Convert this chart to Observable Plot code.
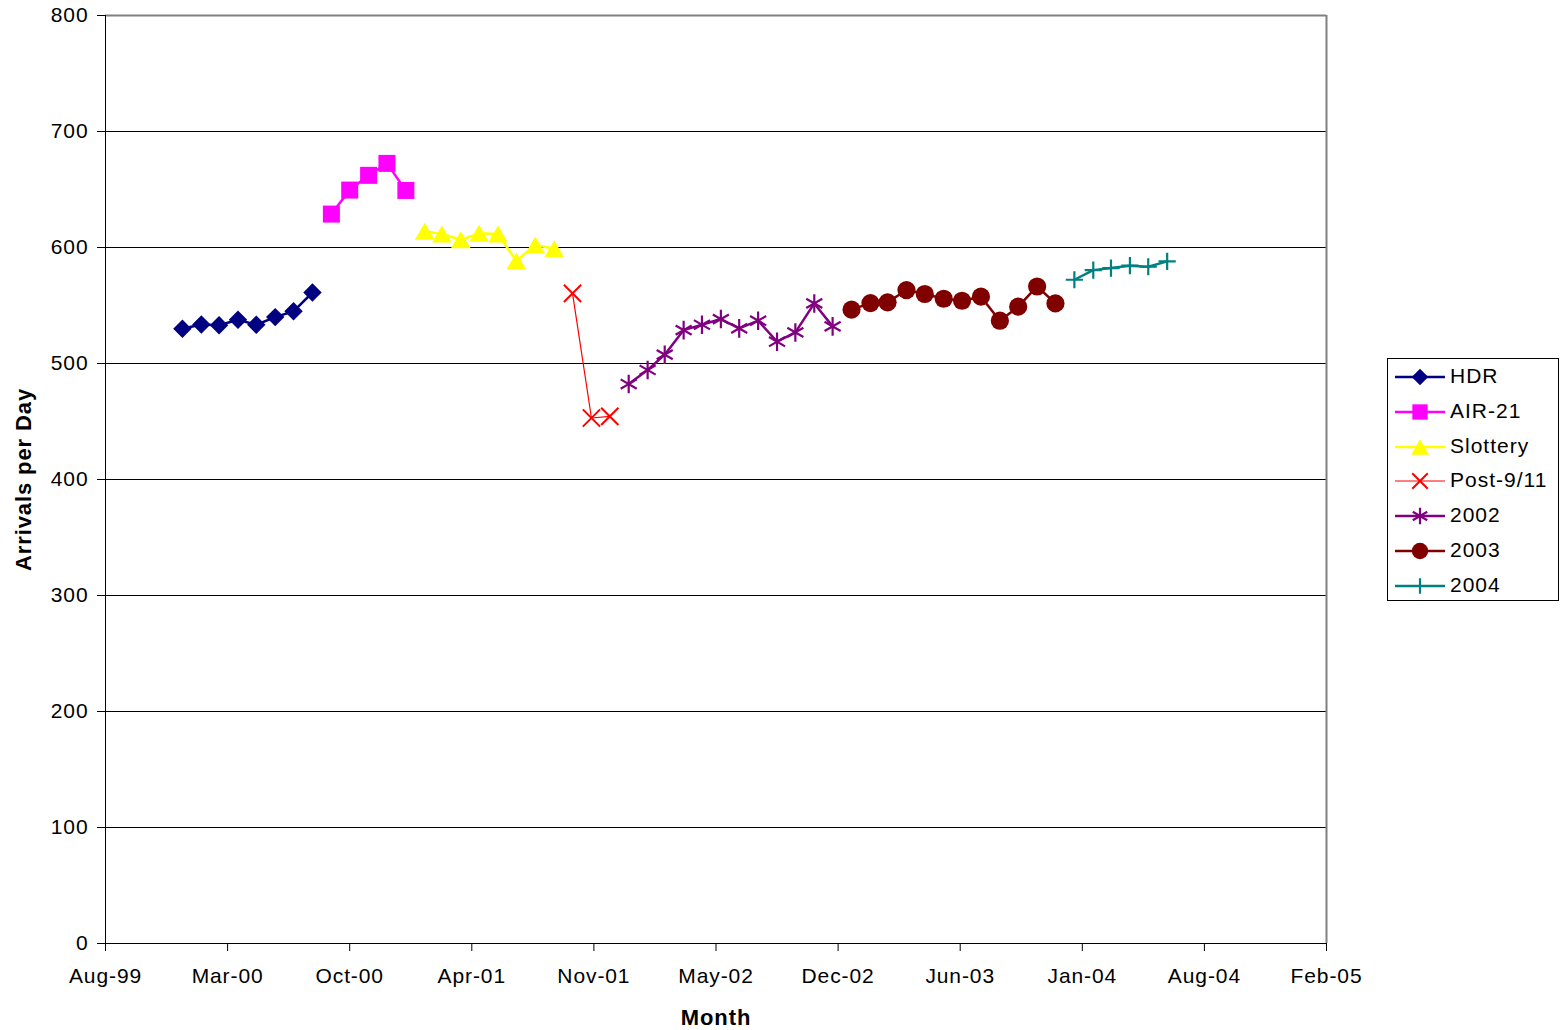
<!DOCTYPE html>
<html><head><meta charset="utf-8">
<script src="https://cdn.jsdelivr.net/npm/d3@7"></script>
<script src="https://cdn.jsdelivr.net/npm/@observablehq/plot@0.6"></script>
<style>
body{margin:0;background:#fff;color:#000;font-family:"Liberation Sans",Arial,sans-serif;}
#wrap{position:relative;width:1562px;height:1030px;}
#legend{position:absolute;left:1387px;top:358px;width:170px;height:241px;border:1px solid #000;background:#fff;}
.row{position:absolute;left:0;height:20px;width:170px;}
.row svg{position:absolute;left:7px;top:0;overflow:visible;}
.row span{position:absolute;left:62px;top:-3px;font-size:21px;line-height:24px;letter-spacing:1px;white-space:nowrap;}
</style></head><body><div id="wrap"><div id="legend"></div></div>
<script>
// ---- data ----
const seriesNames = ["HDR","AIR-21","Slottery","Post-9/11","2002","2003","2004"];
const seriesColors = ["#000080","#FF00FF","#FFFF00","#FF0000","#800080","#800000","#008080"];

const hdrMonths = ["2000-01","2000-02","2000-03","2000-04","2000-05","2000-06","2000-07","2000-08"];
const hdrValues = [530,533.6,533,537.7,533.4,540,545,561.2];

const air21Months = ["2000-09","2000-10","2000-11","2000-12","2001-01"];
const air21Values = [628.8,649.5,662.2,672.5,649.2];

const slotteryMonths = ["2001-02","2001-03","2001-04","2001-05","2001-06","2001-07","2001-08","2001-09"];
const slotteryValues = [614,611.6,606.7,612.2,611.6,588.3,602.1,598.9];

const post911Months = ["2001-10","2001-11","2001-12"];
const post911Values = [560.4,453,454.4];

const y2002Months = ["2002-01","2002-02","2002-03","2002-04","2002-05","2002-06","2002-07","2002-08","2002-09","2002-10","2002-11","2002-12"];
const y2002Values = [482.3,494.4,507.6,528.8,533.4,538.3,530.3,536.9,518.8,526.8,551.8,532.0];

const y2003Months = ["2003-01","2003-02","2003-03","2003-04","2003-05","2003-06","2003-07","2003-08","2003-09","2003-10","2003-11","2003-12"];
const y2003Values = [546.4,552.1,552.7,563.3,559.9,555.8,554.1,557.6,536.9,549,566.4,551.8];

const y2004Months = ["2004-01","2004-02","2004-03","2004-04","2004-05","2004-06"];
const y2004Values = [572.2,580.5,582.3,584.3,583.4,588];

const xTickDates = ["1999-08-28","2000-03-15","2000-10-01","2001-04-19","2001-11-05","2002-05-24","2002-12-10","2003-06-28","2004-01-14","2004-08-01","2005-02-17"];
const yTicks = [0,100,200,300,400,500,600,700,800];

// ---- styles ----
const styles = [
  {symbol:"diamond2", r:8.3, filled:true, lw:2.5, dy:0},
  {symbol:"square", r:9.6, filled:true, lw:2.5, dy:0},
  {symbol:"triangle", r:7.3, filled:true, lw:2.5, dy:2.8},
  {symbol:"times", r:7.9, filled:false, lw:1.2, sw:2},
  {symbol:"asterisk", r:8.8, filled:false, lw:2.5, sw:2.2},
  {symbol:"circle", r:9.1, filled:true, lw:2.5, dy:0},
  {symbol:"plus", r:5.6, filled:false, lw:2.5, sw:2.2}
];

const monthsList = [hdrMonths,air21Months,slotteryMonths,post911Months,y2002Months,y2003Months,y2004Months];
const valuesList = [hdrValues,air21Values,slotteryValues,post911Values,y2002Values,y2003Values,y2004Values];
const series = seriesNames.map((name,i)=>({
  name, color: seriesColors[i], style: styles[i],
  data: monthsList[i].map((m,j)=>({date:new Date(m+"-01T00:00:00Z"), value:valuesList[i][j]}))
}));

const marks = [
  Plot.ruleY(yTicks.filter(d=>d>0 && d<800), {stroke:"#000", strokeWidth:1}),
  Plot.ruleY([800], {stroke:"#808080", strokeWidth:2}),
  Plot.ruleX([new Date(xTickDates[xTickDates.length-1])], {stroke:"#808080", strokeWidth:2}),
];
for (const s of series) {
  marks.push(Plot.line(s.data, {x:"date", y:"value", stroke:s.color, strokeWidth:s.style.lw}));
  if (s.style.filled) {
    marks.push(Plot.dot(s.data, {x:"date", y:"value", symbol:s.style.symbol, r:s.style.r, fill:s.color, stroke:"none", dy:s.style.dy||0}));
  } else {
    marks.push(Plot.dot(s.data, {x:"date", y:"value", symbol:s.style.symbol, r:s.style.r, fill:"none", stroke:s.color, strokeWidth:s.style.sw}));
  }
}
marks.push(
  Plot.ruleX([new Date(xTickDates[0])], {stroke:"#000", strokeWidth:1}),
  Plot.ruleY([0], {stroke:"#000", strokeWidth:1}),
  Plot.axisY({ticks:yTicks, tickSize:8, tickPadding:9, fontSize:21, label:null, stroke:"#000"}),
  Plot.axisX({ticks:xTickDates.map(d=>new Date(d)), tickFormat:d3.utcFormat("%b-%y"), tickSize:8, tickPadding:17, fontSize:21, label:null}),
  Plot.text(["Arrivals per Day"], {frameAnchor:"left", dx:-82, rotate:-90, textAnchor:"middle", lineAnchor:"middle", fontWeight:"bold", fontSize:22}),
  Plot.text(["Month"], {frameAnchor:"bottom", dy:74, textAnchor:"middle", lineAnchor:"middle", fontWeight:"bold", fontSize:22})
);

const chart = Plot.plot({
  width:1562, height:1030,
  marginLeft:105, marginRight:236, marginTop:15, marginBottom:87,
  style:{fontFamily:"'Liberation Sans', Arial, sans-serif", background:"#fff", color:"#000", overflow:"visible", letterSpacing:"0.9px"},
  x:{type:"utc", domain:[new Date(xTickDates[0]), new Date(xTickDates[xTickDates.length-1])]},
  y:{domain:[0,800]},
  marks
});
document.getElementById("wrap").prepend(chart);

// ---- legend ----
const legend = document.getElementById("legend");
const symMap = {diamond2:d3.symbolDiamond2, square:d3.symbolSquare, triangle:d3.symbolTriangle, times:d3.symbolTimes, asterisk:d3.symbolAsterisk, circle:d3.symbolCircle, plus:d3.symbolPlus};
series.forEach((s,i)=>{
  const row = document.createElement("div");
  row.className = "row";
  row.style.top = (8 + i*34.8) + "px";
  const svg = d3.create("svg").attr("width",52).attr("height",20);
  svg.append("line").attr("x1",0).attr("x2",50).attr("y1",10).attr("y2",10)
     .attr("stroke",s.color).attr("stroke-width",s.style.lw);
  const lr = s.style.r*0.9;
  const path = d3.symbol(symMap[s.style.symbol], Math.PI*lr*lr)();
  const p = svg.append("path").attr("d",path).attr("transform",`translate(25,${10+(s.style.dy||0)*0.9})`);
  if (s.style.filled) p.attr("fill",s.color); else p.attr("fill","none").attr("stroke",s.color).attr("stroke-width",s.style.sw);
  row.appendChild(svg.node());
  const sp = document.createElement("span");
  sp.textContent = s.name;
  row.appendChild(sp);
  legend.appendChild(row);
});
</script>
</body></html>
